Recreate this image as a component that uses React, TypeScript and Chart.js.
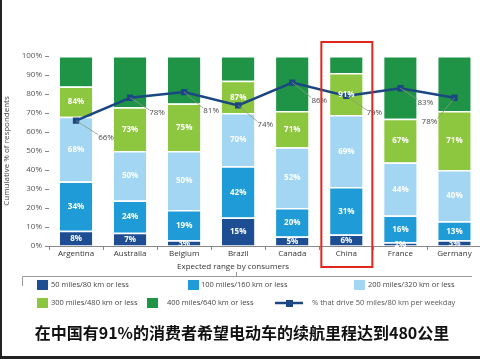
import React, { useEffect, useRef } from "react";
import { Chart, registerables } from "chart.js";

Chart.register(...registerables);

const categories = ["Argentina", "Australia", "Belgium", "Brazil", "Canada", "China", "France", "Germany"];
// cumulative % of respondents per range band
const cum50 = [8, 7, 3, 15, 5, 6, 2, 3];
const cum100 = [34, 24, 19, 42, 20, 31, 16, 13];
const cum200 = [68, 50, 50, 70, 52, 69, 44, 40];
const cum300 = [84, 73, 75, 87, 71, 91, 67, 71];
const cum400 = [100, 100, 100, 100, 100, 100, 100, 100];
// % that drive 50 miles/80 km per weekday
const drive50 = [66, 78, 81, 74, 86, 79, 83, 78];

const seriesNames = [
  "50 miles/80 km or less",
  "100 miles/160 km or less",
  "200 miles/320 km or less",
  "300 miles/480 km or less",
  "400 miles/640 km or less",
];
const lineName = "% that drive 50 miles/80 km per weekday";
const yTitle = "Cumulative % of respondents";
const xTitle = "Expected range by consumers";
const caption = "在中国有91%的消费者希望电动车的续航里程达到480公里";
const highlightIndex = 5;

const colors = ["#1d4e94", "#1f9bd7", "#a3d6f2", "#8dc63f", "#1f9447"];
const lineColor = "#1b4782";

const cumSeries = [cum50, cum100, cum200, cum300, cum400];
const segments = cumSeries.map((arr, i) => arr.map((v, j) => (i === 0 ? v : v - cumSeries[i - 1][j])));

// label offsets (dx, dy) for line value callouts
const lineLabelOffsets = [
  [30, 17], [27, 15], [27, 19], [27, 19], [27, 18], [28, 17], [25, 14], [-25, 24],
];

const FONT = "'Open Sans', 'Noto Sans', sans-serif";

const overlayPlugin = {
  id: "overlay",
  afterDatasetsDraw(chart: any) {
    const ctx = chart.ctx;
    ctx.save();
    // segment labels
    ctx.font = `bold 8px ${FONT}`;
    ctx.fillStyle = "#ffffff";
    ctx.textAlign = "center";
    ctx.textBaseline = "middle";
    for (let i = 0; i < 4; i++) {
      const meta = chart.getDatasetMeta(i);
      meta.data.forEach((el: any, j: number) => {
        const cy = (el.y + el.base) / 2;
        ctx.fillText(cumSeries[i][j] + "%", el.x, cy + 0.5);
      });
    }
    // line labels with leader lines
    const lmeta = chart.getDatasetMeta(5);
    ctx.font = `8px ${FONT}`;
    lmeta.data.forEach((pt: any, j: number) => {
      const [dx, dy] = lineLabelOffsets[j];
      const lx = pt.x + dx;
      const ly = pt.y + dy;
      ctx.strokeStyle = "#8a9a7a";
      ctx.lineWidth = 0.8;
      ctx.beginPath();
      ctx.moveTo(pt.x, pt.y);
      ctx.lineTo(lx + (dx > 0 ? -8 : 8), ly - 3);
      ctx.stroke();
      ctx.fillStyle = "#4a4a4a";
      ctx.fillText(drive50[j] + "%", lx, ly);
    });
    // redraw line points on top of leader lines
    ctx.restore();
  },
  afterDraw(chart: any) {
    const ctx = chart.ctx;
    const xs = chart.scales.x;
    ctx.save();
    // x axis title
    ctx.font = `8px ${FONT}`;
    ctx.fillStyle = "#333";
    ctx.textAlign = "center";
    ctx.textBaseline = "middle";
    ctx.fillText(xTitle, 233, 267);

    // highlight box around China
    const cx = xs.getPixelForValue(highlightIndex);
    ctx.strokeStyle = "#e0261e";
    ctx.lineWidth = 2;
    ctx.strokeRect(cx - 25, 42, 51, 225);

    // legend frame
    ctx.strokeStyle = "#9a9a9a";
    ctx.lineWidth = 1;
    ctx.beginPath();
    ctx.moveTo(22.5, 286);
    ctx.lineTo(22.5, 276.5);
    ctx.lineTo(472, 276.5);
    ctx.moveTo(236.5, 272);
    ctx.lineTo(236.5, 276.5);
    ctx.stroke();

    const items = [
      { sq: 37, tx: 51, y: 285, c: 0 },
      { sq: 188, tx: 201, y: 285, c: 1 },
      { sq: 354, tx: 368, y: 285, c: 2 },
      { sq: 37, tx: 51, y: 303, c: 3 },
      { sq: 147, tx: 167, y: 303, c: 4 },
    ];
    ctx.font = `7.5px ${FONT}`;
    ctx.textAlign = "left";
    items.forEach((it) => {
      ctx.fillStyle = colors[it.c];
      ctx.fillRect(it.sq, it.y - 5, 11, 10);
      ctx.fillStyle = "#444";
      ctx.fillText(seriesNames[it.c], it.tx, it.y);
    });
    // line legend
    ctx.strokeStyle = lineColor;
    ctx.lineWidth = 2.5;
    ctx.beginPath();
    ctx.moveTo(275, 303);
    ctx.lineTo(303, 303);
    ctx.stroke();
    ctx.fillStyle = lineColor;
    ctx.fillRect(286, 300, 7, 7);
    ctx.fillStyle = "#555";
    ctx.fillText(lineName, 312, 303);

    // caption
    ctx.font = `bold 16px 'Noto Sans CJK SC', sans-serif`;
    ctx.textAlign = "center";
    ctx.lineWidth = 3;
    ctx.strokeStyle = "#ffffff";
    ctx.strokeText(caption, 242, 333);
    ctx.fillStyle = "#111";
    ctx.fillText(caption, 242, 333);

    // frame edges
    ctx.fillStyle = "#222";
    ctx.fillRect(0, 0, 2, 359);
    ctx.fillRect(0, 356, 486, 3);
    ctx.restore();
  },
};

export default function App() {
  const ref = useRef<HTMLCanvasElement | null>(null);
  useEffect(() => {
    if (!ref.current) return;
    const barSets = segments.map((d, i) => ({
      type: "bar" as const,
      label: seriesNames[i],
      data: d,
      backgroundColor: colors[i],
      borderColor: "#ffffff",
      borderWidth: { top: 1.5, left: 0, right: 0, bottom: 0 },
      borderSkipped: false as any,
      stack: "s",
      order: 1,
      barPercentage: 0.6,
      categoryPercentage: 1,
    }));
    const chart = new Chart(ref.current, {
      type: "bar",
      data: {
        labels: categories,
        datasets: [
          ...barSets,
          {
            type: "line" as const,
            label: lineName,
            data: drive50,
            borderColor: lineColor,
            backgroundColor: lineColor,
            borderWidth: 2.5,
            pointStyle: "rect",
            pointRadius: 4.5,
            pointBorderWidth: 0,
            stack: "line",
            order: 0,
            tension: 0,
          } as any,
        ],
      },
      options: {
        responsive: false,
        animation: false,
        devicePixelRatio: 1,
        layout: { padding: { top: 56, bottom: 93, left: 0, right: 4 } },
        plugins: { legend: { display: false }, tooltip: { enabled: false }, title: { display: false } },
        scales: {
          x: {
            stacked: true,
            grid: { drawOnChartArea: false, drawTicks: true, tickLength: 4, color: "#888", offset: true },
            border: { display: true, color: "#888" },
            ticks: { font: { size: 8, family: FONT }, color: "#333", padding: -1, maxRotation: 0 },
            afterFit: (s: any) => {
              s.height = 20;
            },
          },
          y: {
            stacked: true,
            min: 0,
            max: 100,
            grid: { drawOnChartArea: false, drawTicks: true, tickLength: 4, color: "#888" },
            border: { display: false },
            ticks: {
              stepSize: 10,
              font: { size: 8, family: FONT },
              color: "#555",
              padding: 3,
              callback: (v: any) => v + "%",
            },
            title: { display: true, text: yTitle, font: { size: 8, family: FONT }, color: "#444", padding: 2 },
            afterFit: (s: any) => {
              s.width = 49;
            },
          },
        },
      },
      plugins: [overlayPlugin],
    });
    return () => chart.destroy();
  }, []);
  return (
    <div style={{ position: "fixed", left: 0, top: 0, width: 480, height: 359, overflow: "hidden", background: "#fff" }}>
      <canvas ref={ref} width={486} height={359} style={{ display: "block" }} />
    </div>
  );
}
